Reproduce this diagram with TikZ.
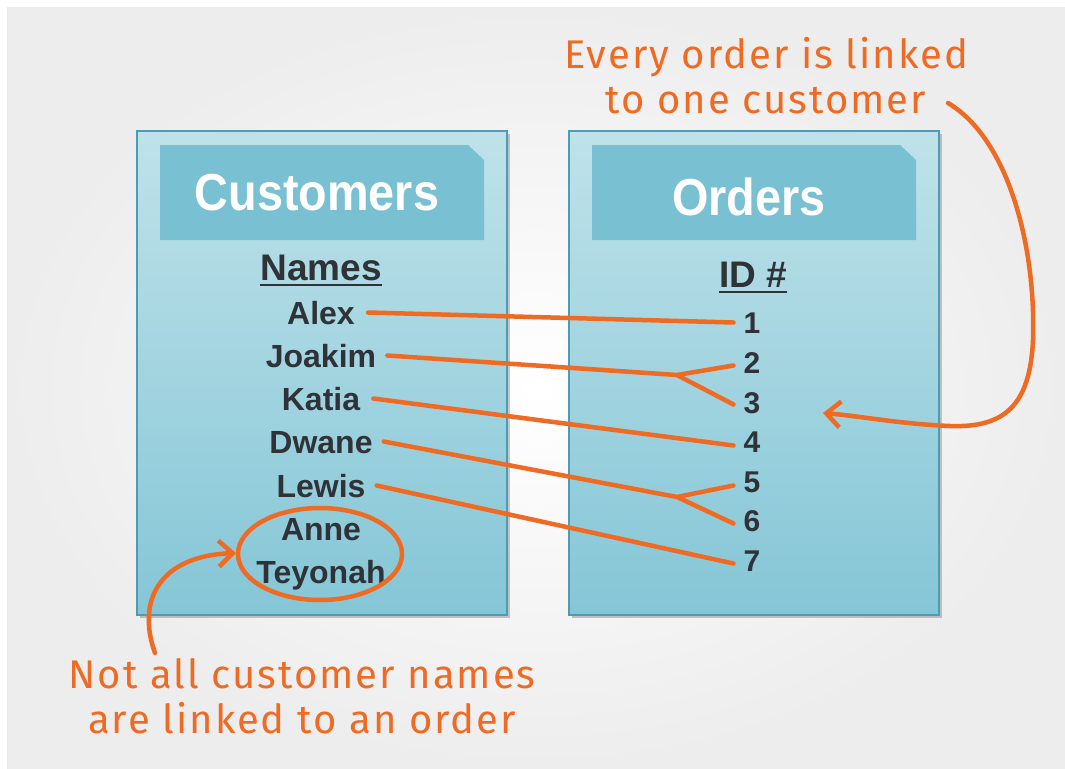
\documentclass[tikz,border=0pt]{standalone}
\usepackage{fontspec}
\usetikzlibrary{shadows,arrows.meta,calc}
\newfontfamily\headfont[FakeStretch=0.9]{Liberation Sans}
\newfontfamily\bodyfont{Liberation Sans}
\newfontfamily\handfont[LetterSpace=5]{Fira Sans}
\definecolor{bgedge}{HTML}{EDEDED}
\definecolor{boxtop}{HTML}{BFE2EA}
\definecolor{boxbot}{HTML}{85C6D6}
\definecolor{boxline}{HTML}{4C9DB4}
\definecolor{headfill}{HTML}{78C0D2}
\definecolor{ink}{HTML}{2F3337}
\definecolor{marker}{HTML}{EF6A22}
\tikzset{
  table/.style={draw=boxline, line width=1.5pt, top color=boxtop, bottom color=boxbot,
    drop shadow={shadow xshift=2.5pt, shadow yshift=-3pt, opacity=0.3, fill=black!70}},
  banner/.style={fill=headfill},
  title/.style={font=\headfont\bfseries\fontsize{52}{60}\selectfont, text=white, anchor=base, inner sep=0pt},
  colhead/.style={font=\bodyfont\bfseries\fontsize{37}{44}\selectfont, text=ink, anchor=base, inner sep=0pt},
  entry/.style={font=\bodyfont\bfseries\fontsize{32}{38}\selectfont, text=ink, anchor=base,
    inner sep=0pt, text height=23pt, text depth=0pt},
  idnum/.style={entry, font=\bodyfont\bfseries\fontsize{30}{36}\selectfont, text height=21pt},
  rule/.style={draw=ink, line width=2.5pt},
  link/.style={draw=marker, line width=4.5pt, line cap=round, line join=round},
  pointer/.style={link, -{Straight Barb[length=14pt, width=26pt]}},
  note/.style={font=\handfont\fontsize{40}{45}\selectfont, text=marker, align=center, inner sep=0pt}
}
\begin{document}
\begin{tikzpicture}[x=1pt, y=-1pt]
  \useasboundingbox (0,0) rectangle (1065,768);
  % page background
  \fill[white] (0,0) rectangle (1065,768);
  \shade[inner color=white, outer color=bgedge] (7,8) rectangle (1065,768);

  % the two tables
  \path[table] (137,131) rectangle (507,615);
  \path[table] (569,131) rectangle (939,615);
  \fill[banner] (160,145) -- (468,145) -- (484,160) -- (484,240) -- (160,240) -- cycle;
  \fill[banner] (592,145) -- (900,145) -- (916,160) -- (916,240) -- (592,240) -- cycle;
  \node[title] (customers) at (317,210) {Customers};
  \node[title] (orders) at (749,215) {Orders};

  % customer names
  \node[colhead] (names) at (321,280) {Names};
  \draw[rule] ([yshift=-5pt]names.base west) -- ([yshift=-5pt]names.base east);
  \node[entry] (alex)    at (321,324) {Alex};
  \node[entry] (joakim)  at (321,367) {Joakim};
  \node[entry] (katia)   at (321,410) {Katia};
  \node[entry] (dwane)   at (321,453) {Dwane};
  \node[entry] (lewis)   at (321,497) {Lewis};
  \node[entry] (anne)    at (321,540) {Anne};
  \node[entry] (teyonah) at (321,583) {Teyonah};

  % order ids
  \node[colhead] (idhead) at (753,287) {ID \#};
  \draw[rule] ([yshift=-5pt]idhead.base west) -- ([yshift=-5pt]idhead.base east);
  \node[idnum] (o1) at (752,333) {1};
  \node[idnum] (o2) at (752,373) {2};
  \node[idnum] (o3) at (752,413) {3};
  \node[idnum] (o4) at (752,452) {4};
  \node[idnum] (o5) at (752,492) {5};
  \node[idnum] (o6) at (752,531) {6};
  \node[idnum] (o7) at (752,571) {7};

  % links between customers and orders
  \coordinate (forkA) at (677,375);
  \coordinate (forkB) at (677,497);
  \draw[link] ([xshift=13pt]alex.east) -- ([xshift=-10pt]o1.west);
  \draw[link] ([xshift=11pt]joakim.east) -- (forkA) -- ([xshift=-10pt,yshift=-3pt]o2.west);
  \draw[link] (forkA) -- ([xshift=-10pt,yshift=-2pt]o3.west);
  \draw[link] ([xshift=13pt]katia.east) -- ([xshift=-10pt,yshift=-4pt]o4.west);
  \draw[link] ([xshift=11pt]dwane.east) -- (forkB) -- ([xshift=-10pt,yshift=-4pt]o5.west);
  \draw[link] (forkB) -- ([xshift=-10pt,yshift=-3pt]o6.west);
  \draw[link] ([xshift=11pt]lewis.east) -- ([xshift=-10pt,yshift=-3pt]o7.west);

  % customers without orders
  \draw[link] (320,554) ellipse [x radius=82, y radius=46];

  % annotations
  \node[note] (topnote) at (766,76) {Every order is linked\\to one customer};
  \node[note] (botnote) at (302,696) {Not all customer names\\are linked to an order};
  \coordinate (toptail) at (948,103);
  \coordinate (toptip) at (823,413);
  \coordinate (bottail) at (155,653);
  \coordinate (bottip) at (236,553);
  \draw[pointer] (toptail) .. controls (1010,140) and (1036,250) .. (1033,340)
    .. controls (1030,405) and (1005,428) .. (950,426)
    .. controls (900,424) and (860,416) .. (toptip);
  \draw[pointer] (bottail) .. controls (136,600) and (160,556) .. (bottip);
\end{tikzpicture}
\end{document}
